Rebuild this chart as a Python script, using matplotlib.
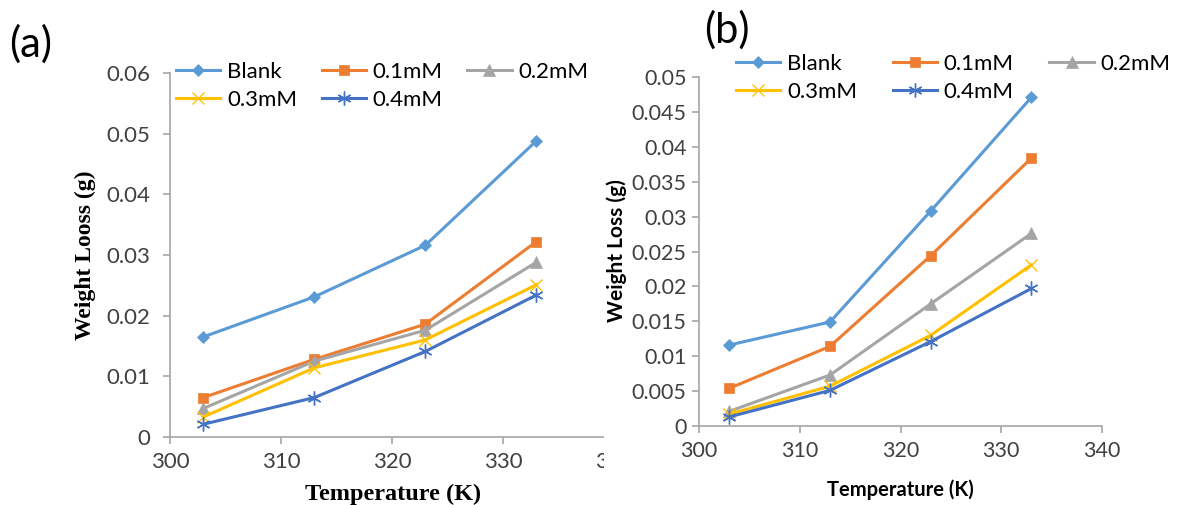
import matplotlib.pyplot as plt
from matplotlib.patches import Rectangle

# Temperature (K)
temps = [303, 313, 323, 333]
series_names = ["Blank", "0.1mM", "0.2mM", "0.3mM", "0.4mM"]

# panel (a) weight loss (g)
a_blank = [0.0165, 0.0231, 0.0316, 0.0488]
a_01 = [0.0065, 0.0128, 0.0186, 0.0322]
a_02 = [0.0047, 0.0125, 0.0176, 0.0288]
a_03 = [0.0033, 0.0114, 0.0160, 0.0251]
a_04 = [0.0021, 0.0065, 0.0141, 0.0234]

# panel (b) weight loss (g)
b_blank = [0.0116, 0.0149, 0.0308, 0.0471]
b_01 = [0.0054, 0.0114, 0.0244, 0.0384]
b_02 = [0.0021, 0.0073, 0.0175, 0.0276]
b_03 = [0.0017, 0.0057, 0.0130, 0.0231]
b_04 = [0.0013, 0.0051, 0.0121, 0.0197]

colors = ["#5B9BD5", "#ED7D31", "#A5A5A5", "#FFC000", "#4472C4"]
markers = ["D", "s", "^", "x", (6, 2, 0)]
msizes = [6, 7, 8, 9, 10]

plt.rcParams["font.family"] = ["Lato", "DejaVu Sans"]
W, H = 1185, 505
fig = plt.figure(figsize=(W / 100, H / 100), dpi=100)


def box(x0, x1, ytop, ybot):
    return [x0 / W, 1 - ybot / H, (x1 - x0) / W, (ybot - ytop) / H]


def style(ax, ypad, size):
    for s in ["top", "right"]:
        ax.spines[s].set_visible(False)
    for s in ["left", "bottom"]:
        ax.spines[s].set_color("#A6A6A6")
        ax.spines[s].set_linewidth(1.2)
    ax.tick_params(axis="both", colors="#A6A6A6", length=5, width=1.2,
                   labelcolor="#404040", labelsize=size)
    ax.tick_params(axis="y", pad=ypad)
    ax.tick_params(axis="x", pad=6)
    ax.set_xlim(300, 340)
    ax.set_xticks([300, 310, 320, 330, 340])


def draw(ax, data):
    handles = []
    for vals, c, m, ms in zip(data, colors, markers, msizes):
        thin = m == "x" or isinstance(m, tuple)
        h, = ax.plot(temps, vals, color=c, lw=2.2, marker=m, ms=ms,
                     mew=1.0 if thin else 0.5, clip_on=False)
        handles.append(h)
    return handles


def legend(ax, handles, x, y, colspace):
    order = [0, 3, 1, 4, 2]
    ax.legend([handles[i] for i in order], [series_names[i] for i in order],
              ncol=3, loc="upper left", bbox_to_anchor=(x / W, 1 - y / H),
              bbox_transform=fig.transFigure, frameon=False, fontsize=16,
              borderpad=0, borderaxespad=0, handlelength=2.0,
              handletextpad=0.3, columnspacing=colspace, labelspacing=0.35)


# panel (a)
ax1 = fig.add_axes(box(170, 614, 73, 437))
style(ax1, 9, 16)
ax1.set_ylim(0, 0.06)
ax1.set_yticks([0, 0.01, 0.02, 0.03, 0.04, 0.05, 0.06])
ax1.set_yticklabels(["0", "0.01", "0.02", "0.03", "0.04", "0.05", "0.06"])
h1 = draw(ax1, [a_blank, a_01, a_02, a_03, a_04])
legend(ax1, h1, 176, 62, 1.1)

# the left panel is cut off at its right edge
fig.add_artist(Rectangle((604 / W, 0), 1, 1, transform=fig.transFigure,
                         facecolor="white", edgecolor="none", zorder=1))

# panel (b)
ax2 = fig.add_axes(box(699, 1102, 77, 426))
ax2.set_zorder(2)
style(ax2, 4, 15.5)
ax2.set_ylim(0, 0.05)
ax2.set_yticks([0, 0.005, 0.01, 0.015, 0.02, 0.025, 0.03, 0.035, 0.04, 0.045, 0.05])
ax2.set_yticklabels(["0", "0.005", "0.01", "0.015", "0.02", "0.025", "0.03",
                     "0.035", "0.04", "0.045", "0.05"])
h2 = draw(ax2, [b_blank, b_01, b_02, b_03, b_04])
legend(ax2, h2, 736, 54, 1.6)

# axis titles and panel labels
serif = ["Liberation Serif", "DejaVu Serif"]
fig.text(393 / W, 1 - 494 / H, "Temperature (K)", family=serif, weight="bold",
         fontsize=17.5, ha="center", va="center", zorder=5)
fig.text(85 / W, 1 - 255 / H, "Weight Looss (g)", family=serif, weight="bold",
         fontsize=17, rotation=90, ha="center", va="center", zorder=5)
fig.text(900 / W, 1 - 490 / H, "Temperature (K)", weight="bold",
         fontsize=14.5, ha="center", va="center", zorder=5)
fig.text(617 / W, 1 - 251 / H, "Weight Loss (g)", weight="bold",
         fontsize=15, rotation=90, ha="center", va="center", zorder=5)
fig.text(31 / W, 1 - 44 / H, "(a)", fontsize=30, ha="center", va="center", zorder=5)
fig.text(727 / W, 1 - 30 / H, "(b)", fontsize=30, ha="center", va="center", zorder=5)

fig.savefig("out.png", dpi=100)
